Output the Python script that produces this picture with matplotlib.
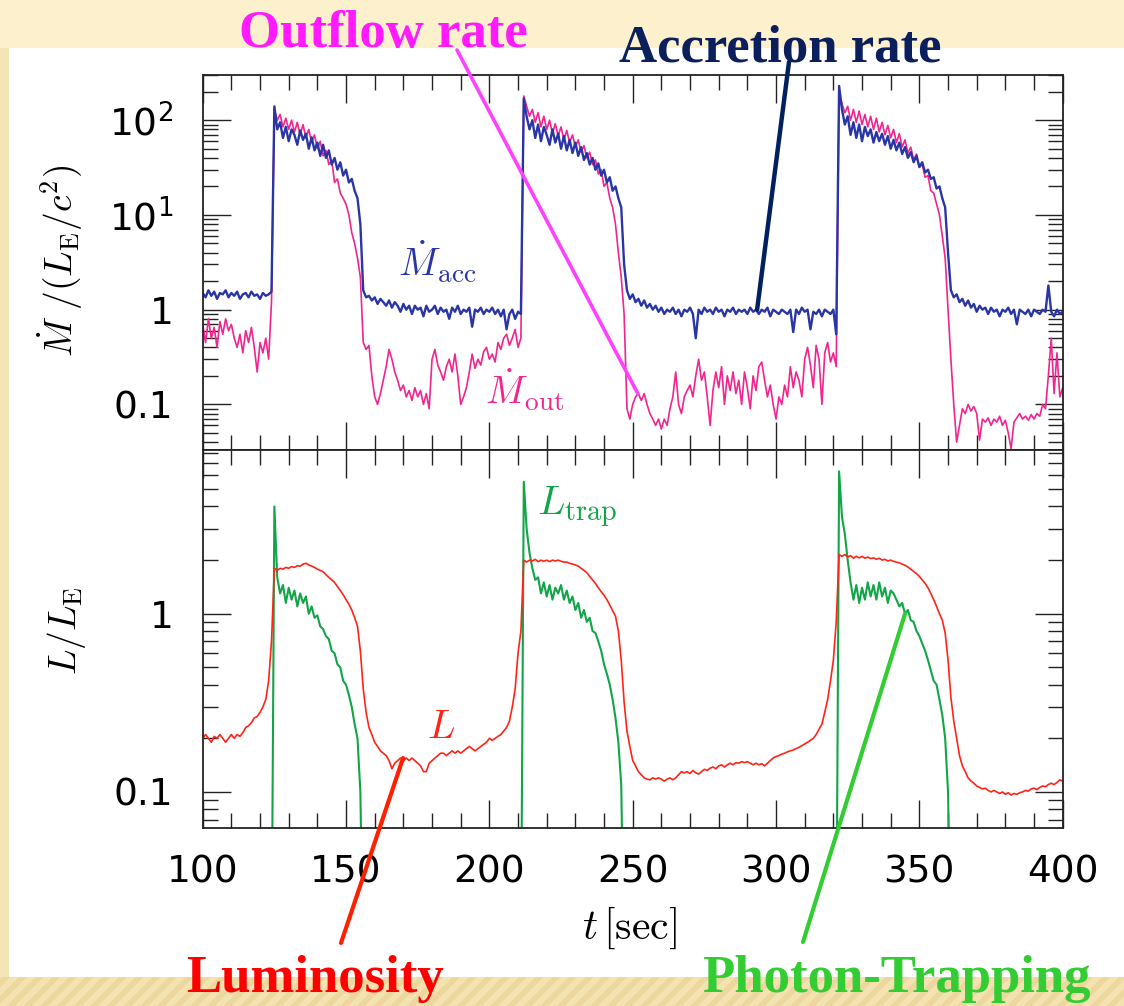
import numpy as np
import matplotlib; matplotlib.use("Agg")
import matplotlib.pyplot as plt
from matplotlib.patches import Rectangle
from matplotlib.ticker import MultipleLocator, LogLocator, NullFormatter

plt.rcParams["mathtext.fontset"] = "cm"
plt.rcParams["font.family"] = "DejaVu Sans"
plt.rcParams["hatch.linewidth"] = 4

W, H = 1124, 1006
def fx(px): return px / W
def fy(py): return 1 - py / H

# ---------- data (1 s samples, t = 100..400) ----------
t_sec = np.arange(100, 401)

mdot_acc = [
    1.5, 1.35, 1.6, 1.4, 1.55, 1.3, 1.5, 1.45, 1.6, 1.35,
    1.5, 1.4, 1.55, 1.3, 1.45, 1.5, 1.35, 1.55, 1.4, 1.45,
    1.3, 1.5, 1.4, 1.45, 1.55, 140, 80, 95, 65, 85,
    60, 80, 70, 55, 78, 62, 72, 50, 66, 48,
    58, 42, 55, 40, 48, 34, 40, 30, 36, 26,
    30, 22, 24, 18, 15, 8, 1.6, 1.35, 1.4, 1.25,
    1.35, 1.15, 1.3, 1.2, 1.1, 1.25, 1.05, 1.2, 1.1, 0.95,
    1.15, 1.0, 1.1, 0.9, 1.1, 1.0, 1.05, 0.85, 1.1, 0.95,
    1.0, 1.1, 0.9, 1.05, 0.95, 1.0, 0.8, 1.05, 0.95, 1.1,
    0.9, 1.0, 0.95, 1.05, 0.66, 1.0, 0.95, 1.05, 0.9, 1.0,
    0.95, 1.05, 0.9, 1.0, 0.85, 1.0, 0.62, 0.9, 1.0, 0.8,
    0.95, 0.9, 170, 110, 80, 100, 65, 90, 60, 85,
    70, 55, 80, 58, 72, 50, 68, 48, 62, 45,
    58, 42, 52, 38, 45, 34, 40, 30, 35, 26,
    30, 22, 25, 18, 20, 15, 12, 3, 1.6, 1.3,
    1.45, 1.2, 1.3, 1.1, 1.25, 1.05, 1.15, 1.0, 1.1, 0.95,
    1.05, 0.9, 1.0, 0.95, 1.05, 0.9, 1.0, 0.85, 1.0, 0.95,
    1.05, 0.9, 0.5, 1.0, 0.9, 1.05, 0.95, 1.0, 0.9, 1.05,
    0.95, 1.0, 0.85, 1.0, 0.95, 1.05, 0.9, 1.0, 0.95, 1.0,
    0.9, 1.05, 0.95, 1.0, 0.9, 1.0, 0.95, 1.05, 0.85, 1.0,
    0.95, 0.9, 1.0, 0.95, 0.9, 1.0, 0.58, 1.0, 0.9, 1.05,
    0.95, 1.0, 0.62, 0.95, 0.9, 1.0, 0.85, 1.0, 0.95, 0.9,
    1.0, 0.55, 230, 130, 90, 110, 70, 95, 65, 90,
    60, 85, 68, 80, 58, 75, 60, 72, 55, 68,
    50, 62, 48, 58, 44, 52, 40, 46, 36, 42,
    32, 36, 28, 30, 24, 25, 19, 20, 15, 12,
    4, 1.6, 1.35, 1.45, 1.2, 1.3, 1.1, 1.25, 1.05, 1.15,
    0.95, 1.1, 1.0, 1.05, 0.9, 1.05, 0.95, 1.0, 0.85, 1.0,
    0.95, 1.05, 0.9, 1.0, 0.7, 1.0, 0.95, 0.9, 1.0, 0.85,
    1.0, 0.95, 0.9, 1.0, 0.95, 1.8, 0.95, 0.85, 1.0, 0.9,
    0.95,
]

mdot_out = [
    0.7, 0.45, 0.8, 0.5, 0.65, 0.4, 0.75, 0.55, 0.8, 0.6,
    0.7, 0.5, 0.4, 0.55, 0.35, 0.6, 0.45, 0.65, 0.4, 0.22,
    0.45, 0.35, 0.5, 0.3, 1.2, 130, 100, 115, 85, 105,
    80, 100, 75, 95, 70, 90, 65, 80, 58, 70,
    50, 60, 42, 48, 34, 38, 22, 24, 17, 15,
    13, 10, 6.5, 5, 3.5, 2.2, 0.45, 0.38, 0.42, 0.2,
    0.12, 0.1, 0.13, 0.18, 0.25, 0.38, 0.3, 0.22, 0.18, 0.14,
    0.16, 0.12, 0.14, 0.11, 0.15, 0.12, 0.14, 0.1, 0.13, 0.09,
    0.3, 0.38, 0.26, 0.22, 0.18, 0.25, 0.3, 0.22, 0.34, 0.2,
    0.1, 0.12, 0.15, 0.22, 0.34, 0.24, 0.3, 0.26, 0.36, 0.4,
    0.3, 0.34, 0.28, 0.45, 0.38, 0.5, 0.55, 0.42, 0.5, 0.62,
    0.4, 0.5, 180, 140, 110, 130, 95, 120, 85, 110,
    80, 100, 72, 92, 68, 85, 62, 78, 58, 70,
    52, 62, 46, 54, 40, 46, 34, 38, 27, 30,
    20, 22, 15, 12, 8, 4, 2.2, 0.9, 0.09, 0.07,
    0.1, 0.12, 0.13, 0.11, 0.13, 0.1, 0.08, 0.07, 0.06, 0.07,
    0.055, 0.07, 0.06, 0.09, 0.12, 0.22, 0.1, 0.08, 0.12, 0.14,
    0.16, 0.12, 0.2, 0.3, 0.18, 0.22, 0.12, 0.06, 0.14, 0.22,
    0.15, 0.25, 0.1, 0.2, 0.14, 0.22, 0.13, 0.18, 0.1, 0.22,
    0.15, 0.09, 0.2, 0.14, 0.25, 0.28, 0.18, 0.12, 0.16, 0.1,
    0.07, 0.12, 0.1, 0.16, 0.12, 0.25, 0.15, 0.22, 0.18, 0.12,
    0.3, 0.4, 0.26, 0.15, 0.42, 0.3, 0.1, 0.35, 0.45, 0.28,
    0.35, 0.25, 200, 150, 120, 140, 100, 130, 95, 125,
    90, 115, 85, 110, 80, 105, 75, 95, 70, 88,
    65, 80, 58, 72, 52, 62, 45, 52, 38, 44,
    32, 34, 25, 26, 18, 17, 13, 10, 6, 3.5,
    1.0, 0.3, 0.1, 0.04, 0.06, 0.09, 0.08, 0.1, 0.085, 0.095,
    0.08, 0.042, 0.07, 0.065, 0.072, 0.06, 0.07, 0.065, 0.075, 0.06,
    0.068, 0.05, 0.034, 0.065, 0.072, 0.08, 0.07, 0.075, 0.068, 0.078,
    0.07, 0.08, 0.075, 0.1, 0.09, 0.2, 0.5, 0.13, 0.35, 0.12,
    0.15,
]

lum = [
    0.2, 0.21, 0.2, 0.19, 0.205, 0.2, 0.21, 0.2, 0.19, 0.2,
    0.21, 0.2, 0.21, 0.205, 0.215, 0.23, 0.235, 0.245, 0.26, 0.265,
    0.28, 0.3, 0.33, 0.42, 0.7, 1.8, 1.75, 1.8, 1.78, 1.82,
    1.8, 1.84, 1.82, 1.86, 1.85, 1.9, 1.92, 1.88, 1.85, 1.82,
    1.78, 1.75, 1.72, 1.66, 1.6, 1.55, 1.5, 1.42, 1.35, 1.28,
    1.2, 1.13, 1.05, 0.95, 0.85, 0.62, 0.38, 0.28, 0.23, 0.21,
    0.19, 0.18, 0.17, 0.165, 0.16, 0.15, 0.135, 0.145, 0.15, 0.155,
    0.15, 0.155, 0.15, 0.155, 0.15, 0.145, 0.14, 0.13, 0.13, 0.145,
    0.15, 0.155, 0.16, 0.165, 0.165, 0.16, 0.165, 0.17, 0.165, 0.17,
    0.165, 0.17, 0.175, 0.18, 0.175, 0.17, 0.175, 0.18, 0.185, 0.19,
    0.2, 0.195, 0.2, 0.205, 0.21, 0.22, 0.23, 0.25, 0.3, 0.38,
    0.6, 0.8, 2.0, 1.95, 2.0, 1.98, 2.02, 1.96, 2.0, 1.97,
    2.0, 1.96, 2.0, 1.98, 2.0, 1.97, 1.95, 1.95, 1.92, 1.9,
    1.88, 1.85, 1.8, 1.75, 1.7, 1.62, 1.55, 1.48, 1.4, 1.33,
    1.27, 1.2, 1.12, 1.04, 0.97, 0.8, 0.55, 0.32, 0.22, 0.18,
    0.15, 0.14, 0.13, 0.125, 0.12, 0.118, 0.117, 0.12, 0.118, 0.12,
    0.118, 0.115, 0.118, 0.12, 0.117, 0.12, 0.125, 0.13, 0.128, 0.13,
    0.127, 0.132, 0.128, 0.126, 0.13, 0.134, 0.132, 0.136, 0.138, 0.135,
    0.14, 0.142, 0.138, 0.142, 0.145, 0.142, 0.146, 0.145, 0.148, 0.146,
    0.148, 0.145, 0.142, 0.145, 0.142, 0.144, 0.14, 0.145, 0.15, 0.155,
    0.158, 0.16, 0.163, 0.165, 0.168, 0.17, 0.172, 0.175, 0.178, 0.182,
    0.186, 0.19, 0.195, 0.2, 0.21, 0.225, 0.24, 0.28, 0.33, 0.42,
    0.55, 0.9, 2.15, 2.1, 2.15, 2.08, 2.12, 2.05, 2.1, 2.06,
    2.1, 2.05, 2.08, 2.04, 2.06, 2.02, 2.05, 2.0, 2.02, 1.98,
    2.0, 1.97, 1.95, 1.93, 1.9, 1.87, 1.83, 1.78, 1.73, 1.68,
    1.62, 1.55, 1.48, 1.4, 1.3, 1.2, 1.1, 1.0, 0.92, 0.78,
    0.55, 0.34, 0.25, 0.2, 0.16, 0.14, 0.13, 0.12, 0.115, 0.112,
    0.108, 0.106, 0.104, 0.105, 0.102, 0.1, 0.102, 0.1, 0.098, 0.1,
    0.097, 0.099, 0.096, 0.098, 0.097, 0.099, 0.1, 0.102, 0.101, 0.104,
    0.105, 0.103, 0.106, 0.108, 0.107, 0.11, 0.112, 0.11, 0.113, 0.117,
    0.115,
]

OFF = 0.01  # L_trap is below the plotted range between bursts
l_trap = (
    [OFF] * 25
    + [4.0, 1.6, 1.3, 1.45, 1.15,
       1.4, 1.2, 1.35, 1.1, 1.3, 1.15, 1.25, 1.0, 1.1, 0.95,
       0.98, 0.85, 0.82, 0.75, 0.72, 0.62, 0.6, 0.52, 0.5, 0.42,
       0.4, 0.35, 0.3, 0.24, 0.2, 0.1]
    + [OFF] * 56
    + [5.5, 3.0, 2.2, 1.8, 1.55, 1.6, 1.3, 1.5,
       1.25, 1.45, 1.2, 1.4, 1.3, 1.45, 1.2, 1.35, 1.15, 1.25,
       1.05, 1.15, 0.95, 1.05, 0.9, 0.95, 0.8, 0.78, 0.7, 0.62,
       0.52, 0.46, 0.4, 0.33, 0.26, 0.19, 0.11]
    + [OFF] * 75
    + [6.3, 3.5, 2.8, 2.0, 1.5, 1.2, 1.45, 1.15,
       1.4, 1.2, 1.5, 1.25, 1.45, 1.2, 1.5, 1.25, 1.4, 1.15,
       1.35, 1.3, 1.2, 1.1, 1.15, 1.0, 1.05, 0.92, 0.9, 0.8,
       0.75, 0.68, 0.62, 0.55, 0.48, 0.42, 0.4, 0.33, 0.27, 0.2, 0.1]
    + [OFF] * 40
)

C_ACC, C_OUT, C_L, C_TRAP = "#2a35a5", "#f0258e", "#ff2418", "#12a548"

# ---------- slide background ----------
fig = plt.figure(figsize=(W / 100, H / 100), dpi=100)
fig.patch.set_facecolor("#f5e4b6")
fig.add_artist(Rectangle((0, fy(48)), 1, 48 / H, transform=fig.transFigure,
                         facecolor="#fdf0cc", edgecolor="none", zorder=-10))
fig.add_artist(Rectangle((0, 0), 1, fy(977), transform=fig.transFigure,
                         facecolor="#f4e2b1", edgecolor="#ecd79e", hatch="//", lw=0, zorder=-10))
fig.add_artist(Rectangle((fx(9), fy(977)), 1 - fx(9), (977 - 48) / H, transform=fig.transFigure,
                         facecolor="white", edgecolor="none", zorder=-9))

ax1 = fig.add_axes([fx(202.7), fy(450), fx(1062.7) - fx(202.7), (450 - 75) / H])
ax2 = fig.add_axes([fx(202.7), fy(827.7), fx(1062.7) - fx(202.7), (827.7 - 450) / H])

ax1.plot(t_sec, mdot_out, color=C_OUT, lw=1.2)
ax1.plot(t_sec, mdot_acc, color=C_ACC, lw=1.7)
ax2.plot(t_sec, l_trap, color=C_TRAP, lw=1.5)
ax2.plot(t_sec, lum, color=C_L, lw=1.2)

ax1.set_yscale("log"); ax2.set_yscale("log")
ax1.set_ylim(0.033, 300); ax2.set_ylim(0.063, 8.3)
for ax in (ax1, ax2):
    ax.set_xlim(100, 400)
    ax.xaxis.set_major_locator(MultipleLocator(50))
    ax.xaxis.set_minor_locator(MultipleLocator(10))
    ax.yaxis.set_minor_locator(LogLocator(base=10, subs=np.arange(2, 10), numticks=20))
    ax.yaxis.set_minor_formatter(NullFormatter())
    ax.tick_params(which="both", direction="in", top=True, right=True, width=1.0, color="#222222")
    ax.tick_params(which="major", length=20.5, labelsize=27, pad=19)
    ax.tick_params(which="minor", length=10.5)
    ax.tick_params(axis="y", which="major", pad=21)
    for s in ax.spines.values():
        s.set_linewidth(1.3); s.set_color("#222222")

ax1.set_yticks([0.1, 1, 10, 100])
ax1.set_yticklabels(["0.1", "1", r"$\mathregular{10^1}$", r"$\mathregular{10^2}$"])
ax2.set_yticks([0.1, 1])
ax2.set_yticklabels(["0.1", "1"])
ax1.tick_params(labelbottom=False)
ax1.set_xticks([100, 150, 200, 250, 300, 350, 400])
ax2.set_xticks([100, 150, 200, 250, 300, 350, 400])

# axis labels
fig.text(fx(60), fy(261), r"$\dot{M}\ /(L_{\rm E}/c^2)$", rotation=90, ha="center", va="center", fontsize=27)
fig.text(fx(66), fy(631), r"$L/L_{\rm E}$", rotation=90, ha="center", va="center", fontsize=27)
fig.text(fx(629), fy(928), r"$t\,[{\rm sec}]$", ha="center", va="center", fontsize=30)

# curve labels
ax1.text(168.1, 2.24, r"$\dot{M}_{\rm acc}$", color=C_ACC, fontsize=28, ha="left", va="baseline")
ax1.text(198.5, 0.1, r"$\dot{M}_{\rm out}$", color=C_OUT, fontsize=28, ha="left", va="baseline")
ax2.text(178.2, 0.2, r"$L$", color=C_L, fontsize=29, ha="left", va="baseline")
ax2.text(216.6, 3.56, r"$L_{\rm trap}$", color=C_TRAP, fontsize=29, ha="left", va="baseline")

# slide call-outs
title_kw = dict(family="Liberation Serif", weight="bold", fontsize=38, ha="center", va="baseline", zorder=5)
fig.text(fx(383), fy(47), "Outflow rate", color="#ff1aff", **title_kw)
fig.text(fx(780), fy(62), "Accretion rate", color="#0b1f5c", **title_kw)
fig.text(fx(315), fy(992), "Luminosity", color="#ff0000", **title_kw)
fig.text(fx(896), fy(992), "Photon-Trapping", color="#33cc33", **title_kw)

def callout(ax, xy, start_px, color, lw):
    a = ax.annotate("", xy=xy, xycoords="data", xytext=(fx(start_px[0]), fy(start_px[1])),
                    textcoords="figure fraction", annotation_clip=False,
                    arrowprops=dict(arrowstyle="-", color=color, lw=lw, shrinkA=0, shrinkB=0))
    a.arrow_patch.set_clip_on(False)
    a.set_zorder(6)

callout(ax1, (251.8, 0.13), (457, 50), "#ff40ff", 2.6)
callout(ax1, (293.4, 1.0), (789, 62), "#002060", 3.2)
callout(ax2, (169.9, 0.155), (341, 943), "#ff2000", 3.0)
callout(ax2, (345.0, 1.0), (803, 942), "#33cc33", 3.0)

fig.savefig("out.png", dpi=100, facecolor=fig.get_facecolor())
